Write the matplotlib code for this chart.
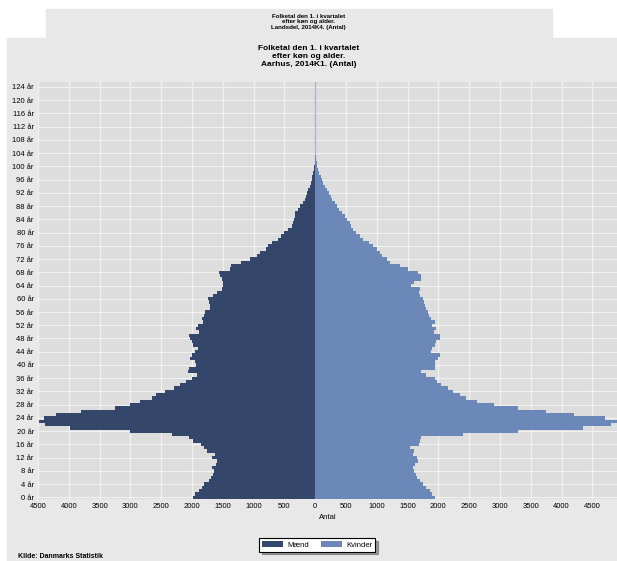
import numpy as np
import matplotlib
matplotlib.use("Agg")
import matplotlib.pyplot as plt
from matplotlib.patches import Rectangle

plt.rcParams['font.family'] = ['Liberation Sans', 'DejaVu Sans']

# Folketal Aarhus 2014K1 efter alder (0..125 aar)
ages = list(range(0, 126))

maend = [1990, 1950, 1880, 1830, 1800, 1720, 1690, 1660, 1650, 1680,
         1610, 1600, 1680, 1630, 1750, 1800, 1850, 1980, 2050, 2320,
         3000, 3980, 4380, 4480, 4400, 4200, 3800, 3250, 3000, 2850,
         2650, 2580, 2440, 2300, 2200, 2100, 2000, 1920, 2060, 2050,
         1930, 1950, 2040, 2000, 1950, 1900, 1980, 2000, 2040, 2050,
         1880, 1930, 1900, 1820, 1830, 1800, 1790, 1700, 1700, 1720,
         1740, 1660, 1600, 1520, 1500, 1490, 1510, 1550, 1560, 1390,
         1370, 1200, 1060, 950, 900, 800, 760, 700, 600, 550,
         500, 440, 380, 360, 350, 330, 320, 280, 240, 200,
         170, 150, 130, 110, 90, 70, 55, 45, 35, 25,
         15, 10, 6, 4, 2, 1] + [0] * 20

kvinder = [1940, 1900, 1860, 1800, 1750, 1700, 1660, 1640, 1600, 1590,
           1620, 1670, 1660, 1590, 1600, 1540, 1680, 1700, 1720, 2400,
           3300, 4350, 4800, 5100, 4700, 4200, 3750, 3300, 2900, 2620,
           2450, 2350, 2240, 2150, 2050, 1970, 1950, 1800, 1720, 1950,
           1940, 1950, 2000, 2020, 1880, 1890, 1950, 1960, 2030, 2020,
           1930, 1960, 1900, 1940, 1880, 1850, 1830, 1800, 1790, 1760,
           1750, 1700, 1680, 1700, 1560, 1600, 1720, 1720, 1670, 1500,
           1370, 1210, 1160, 1080, 1050, 1000, 940, 880, 770, 720,
           660, 620, 580, 560, 520, 480, 440, 390, 350, 320,
           280, 250, 220, 190, 160, 130, 110, 90, 70, 50,
           35, 25, 15, 8, 4, 2] + [0] * 20

yticks = list(range(0, 125, 4))
ylabels = ["%d år" % a for a in yticks]
xticks = list(range(-4500, 5000, 500))
xlabels = [str(abs(v)) for v in xticks]

col_m = '#34466a'
col_k = '#6b88b8'

fig = plt.figure(figsize=(6.17, 5.61), dpi=100)
fig.patch.set_facecolor('white')

# graa baggrunde (to lag)
fig.patches.append(Rectangle((46/617, 1-38/561), (552-46)/617, 29/561,
                             transform=fig.transFigure, color='#e8e8e8', zorder=-5))
fig.patches.append(Rectangle((7/617, 0), 610/617, 1-38/561,
                             transform=fig.transFigure, color='#e8e8e8', zorder=-5))

fig.text(0.5, 1-14/561, "Folketal den 1. i kvartalet\nefter køn og alder.\nLandsdel, 2014K4. (Antal)",
         ha='center', va='top', fontsize=4.4, fontweight='bold', linespacing=1.1)
fig.text(0.5, 1-45/561, "Folketal den 1. i kvartalet\nefter køn og alder.\nAarhus, 2014K1. (Antal)",
         ha='center', va='top', fontsize=6, fontweight='bold', linespacing=1.15)

ax = fig.add_axes([38/617, 62/561, 1-38/617, 417/561])
ax.set_facecolor('#dddddd')

for v in xticks:
    ax.axvline(v, color='#f0f0f0', lw=1.0, zorder=1)
for a in yticks:
    ax.axhline(a, color='#f7f7f7', lw=0.6, zorder=1)

ax.barh(ages, [-m for m in maend], height=1.0, color=col_m, lw=0, label='Mænd', zorder=2)
ax.barh(ages, kvinder, height=1.0, color=col_k, lw=0, label='Kvinder', zorder=2)
ax.axvline(0, color='#a3b5d3', lw=1.0, zorder=1.5)

ax.set_xlim(-4500, 4900)
ax.set_ylim(-0.5, 125.5)
ax.set_yticks(yticks)
ax.set_yticklabels(ylabels, fontsize=5.5)
ax.set_xticks(xticks)
ax.set_xticklabels(xlabels, fontsize=5.5)
ax.tick_params(length=0, pad=3)
ax.set_xlabel("Antal", fontsize=5.5, labelpad=3)
for s in ax.spines.values():
    s.set_visible(False)

leg = fig.legend(loc='center', bbox_to_anchor=(317/617, 1-545/561), ncol=2,
                 fontsize=5.5, frameon=True, fancybox=False, shadow=True,
                 handlelength=2.8, handleheight=0.9, columnspacing=1.6,
                 borderpad=0.35, handletextpad=0.5)
leg.get_frame().set_edgecolor('black')
leg.get_frame().set_linewidth(0.8)

fig.text(18/617, 1-560/561, "Kilde: Danmarks Statistik", ha='left', va='bottom',
         fontsize=5, fontweight='bold')

fig.savefig("out.png", dpi=100, facecolor=fig.get_facecolor())
